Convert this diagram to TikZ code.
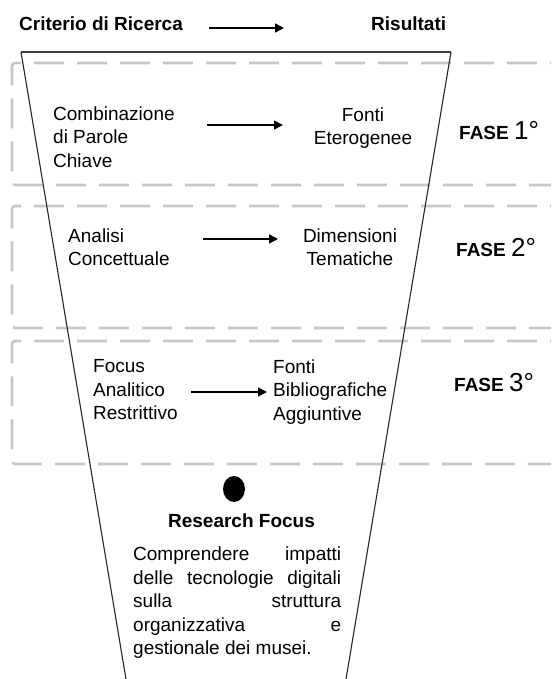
\documentclass[tikz,border=0pt]{standalone}
\usepackage{fontspec}
\setmainfont{Liberation Sans}
\usetikzlibrary{arrows.meta}
\tikzset{
  txt/.style={font=\fontsize{19}{23.5}\selectfont, inner sep=0pt, align=left},
  hdr/.style={txt, font=\fontsize{19}{23.5}\selectfont\bfseries},
  fase/.style={txt, anchor=base west},
  flow/.style={-{Triangle[length=9pt,width=9pt]}, line width=1.5pt},
  phasebox/.style={draw=black!22, line width=2.6pt, dash pattern=on 30pt off 13pt, rounded corners=3pt},
  funnel/.style={draw=black!85, line width=1.1pt},
}
\newcommand{\fasetag}[1]{\textbf{FASE} {\fontsize{26}{26}\selectfont #1°}}

\begin{document}
\begin{tikzpicture}[x=1pt, y=-1pt]
  \useasboundingbox (0,0) rectangle (551,679);
  \clip (0,0) rectangle (551,679);
  % phase bands, open on the right
  \foreach \t/\b in {63/185, 206/328, 341/464}
    \draw[phasebox] (580,\t) -- (12,\t) -- (12,\b) -- (580,\b);
  % funnel
  \draw[funnel] (21,52) -- (127,685);
  \draw[funnel] (451,52) -- (345,685);
  \draw[black!75, line width=2pt] (21,52) -- (451,52);
  % header
  \node[hdr, anchor=base west] (crit) at (19,31) {Criterio di Ricerca};
  \node[hdr, anchor=base west] (ris) at (371,31) {Risultati};
  \coordinate (h0) at (209,28);
  \coordinate (h1) at (284,28);
  \draw[flow] (h0) -- (h1);
  % fase 1
  \node[txt, anchor=west] (comb) at (53,137) {Combinazione\\di Parole\\Chiave};
  \node[txt, align=center] (etero) at (363,128) {Fonti\\Eterogenee};
  \coordinate (a0) at (207,125);
  \coordinate (a1) at (283,125);
  \draw[flow] (a0) -- (a1);
  \node[fase] (f1) at (459,140) {\fasetag{1}};
  % fase 2
  \node[txt, anchor=west] (analisi) at (68,247) {Analisi\\Concettuale};
  \node[txt, align=center] (dimens) at (350,247) {Dimensioni\\Tematiche};
  \coordinate (b0) at (203,239);
  \coordinate (b1) at (278,239);
  \draw[flow] (b0) -- (b1);
  \node[fase] (f2) at (456,256) {\fasetag{2}};
  % fase 3
  \node[txt, anchor=west] (focus) at (93,390) {Focus\\Analitico\\Restrittivo};
  \node[txt, anchor=west] (biblio) at (273,392) {Fonti\\Bibliografiche\\Aggiuntive};
  \coordinate (c0) at (191,392);
  \coordinate (c1) at (267,392);
  \draw[flow] (c0) -- (c1);
  \node[fase] (f3) at (454,391) {\fasetag{3}};
  % research focus
  \fill (234,489) ellipse [x radius=11pt, y radius=13pt];
  \node[hdr, anchor=base] (rf) at (241.5,527) {Research Focus};
  \node[txt, anchor=west] (goal) at (133,603) {%
    \makebox[208pt][s]{Comprendere impatti}\\
    \makebox[208pt][s]{delle tecnologie digitali}\\
    \makebox[208pt][s]{sulla struttura}\\
    \makebox[208pt][s]{organizzativa e}\\
    gestionale dei musei.};
\end{tikzpicture}
\end{document}
